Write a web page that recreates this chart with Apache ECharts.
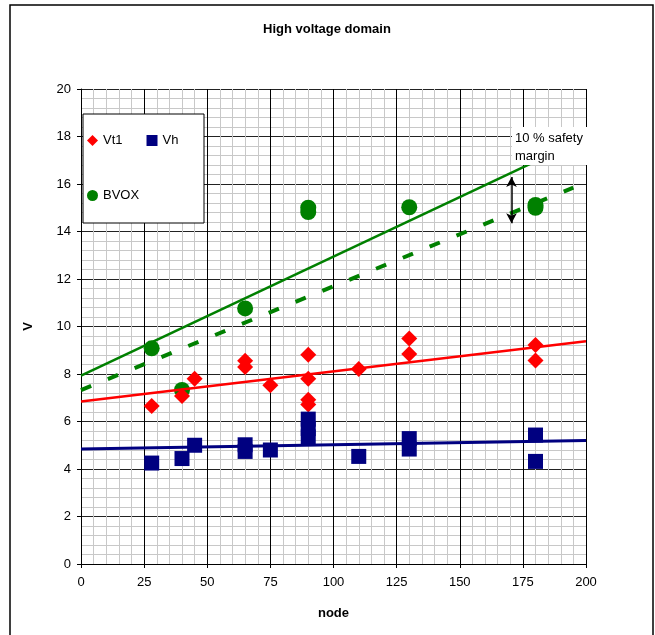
<!DOCTYPE html>
<html>
<head>
<meta charset="utf-8">
<script src="https://cdn.jsdelivr.net/npm/echarts@6/dist/echarts.min.js"></script>
<style>
html,body{margin:0;padding:0;background:#fff;}
#chart{width:655px;height:635px;}
</style>
</head>
<body>
<div id="chart"></div>
<script>
// ---- data ----
const titleText = 'High voltage domain';
const xTicks = [0, 25, 50, 75, 100, 125, 150, 175, 200];
const yTicks = [0, 2, 4, 6, 8, 10, 12, 14, 16, 18, 20];

const vt1X = [28, 40, 45, 65, 65, 75, 90, 90, 90, 90, 110, 130, 130, 180, 180];
const vt1Y = [6.65, 7.07, 7.8, 8.56, 8.29, 7.53, 8.81, 7.8, 6.92, 6.72, 8.21, 9.49, 8.84, 9.22, 8.57];

const vhX = [28, 40, 45, 65, 65, 75, 90, 90, 90, 110, 130, 130, 180, 180];
const vhY = [4.25, 4.44, 5.0, 5.02, 4.74, 4.8, 6.1, 5.7, 5.35, 4.53, 5.28, 4.84, 5.43, 4.32];

const bvoxX = [28, 40, 65, 90, 90, 130, 180, 180];
const bvoxY = [9.08, 7.33, 10.76, 15.0, 14.82, 15.02, 15.0, 15.12];

const trendVt1X = [0, 200], trendVt1Y = [6.84, 9.38];
const trendVhX = [0, 200], trendVhY = [4.84, 5.2];
const trendBvoxX = [0, 180], trendBvoxY = [7.93, 16.95];
const marginX = [0, 195], marginY = [7.32, 15.85];
const arrowX = 170.5, arrowY = [16.3, 14.35];
const noteLines = ['10 % safety', 'margin'];

// ---- build ----
const zip = (xs, ys) => xs.map((x, i) => [x, ys[i]]);
const FONT = "'Liberation Sans', Arial, sans-serif";

const chart = echarts.init(document.getElementById('chart'), null, {renderer: 'canvas'});

const option = {
  backgroundColor: '#fff',
  animation: false,
  textStyle: {fontFamily: FONT},
  title: {
    text: titleText,
    left: 263, top: 23,
    padding: 0,
    textStyle: {fontFamily: FONT, fontSize: 13, fontWeight: 'bold', color: '#000'}
  },
  grid: {left: 81, top: 89, width: 505, height: 475, containLabel: false},
  xAxis: {
    type: 'value', min: xTicks[0], max: xTicks[xTicks.length - 1], interval: 25,
    name: 'node', nameLocation: 'middle', nameGap: 43,
    nameTextStyle: {fontFamily: FONT, fontSize: 13, fontWeight: 'bold', color: '#000'},
    axisLine: {show: true, onZero: false, lineStyle: {color: '#000', width: 1}},
    axisTick: {show: true, length: 4, inside: false, lineStyle: {color: '#000'}},
    axisLabel: {fontFamily: FONT, fontSize: 13, color: '#000', margin: 12},
    splitLine: {show: true, lineStyle: {color: '#000', width: 1}},
    minorTick: {show: false, splitNumber: 5},
    minorSplitLine: {show: true, lineStyle: {color: '#c8c8c8', width: 1}}
  },
  yAxis: {
    type: 'value', min: yTicks[0], max: yTicks[yTicks.length - 1], interval: 2,
    name: 'V', nameLocation: 'middle', nameGap: 46, nameRotate: 90,
    nameTextStyle: {fontFamily: FONT, fontSize: 13, fontWeight: 'bold', color: '#000'},
    axisLine: {show: true, onZero: false, lineStyle: {color: '#000', width: 1}},
    axisTick: {show: true, length: 4, inside: false, lineStyle: {color: '#000'}},
    axisLabel: {fontFamily: FONT, fontSize: 13, color: '#000', margin: 10},
    splitLine: {show: true, lineStyle: {color: '#222', width: 1}},
    minorTick: {show: false, splitNumber: 5},
    minorSplitLine: {show: true, lineStyle: {color: '#c8c8c8', width: 1}}
  },
  legend: [
    {
      data: ['Vt1', 'Vh'], left: 87, top: 134, padding: 0, itemGap: 24,
      itemWidth: 11, itemHeight: 11, selectedMode: false, z: 60,
      textStyle: {fontFamily: FONT, fontSize: 13, color: '#000'}
    },
    {
      data: ['BVOX'], left: 87, top: 189, padding: 0,
      itemWidth: 11, itemHeight: 11, selectedMode: false, z: 60,
      textStyle: {fontFamily: FONT, fontSize: 13, color: '#000'}
    }
  ],
  graphic: {
    elements: [
      {type: 'rect', z: 50, shape: {x: 83, y: 114, width: 121, height: 109},
       style: {fill: '#fff', stroke: '#000', lineWidth: 1}},
      {type: 'rect', z: 50, shape: {x: 512, y: 127, width: 76, height: 38},
       style: {fill: '#fff', stroke: null}},
      {type: 'text', z: 51, x: 515, y: 129,
       style: {text: noteLines.join('\n'), font: "13px 'Liberation Sans', Arial, sans-serif",
               fill: '#000', lineHeight: 18}},
      {type: 'rect', z: 52, shape: {x: 10, y: 5, width: 643, height: 640},
       style: {fill: null, stroke: '#000', lineWidth: 1.5}}
    ]
  },
  series: [
    {
      name: 'BVOX', type: 'scatter', symbol: 'circle', symbolSize: 16,
      itemStyle: {color: '#008000', opacity: 1}, data: zip(bvoxX, bvoxY), z: 3
    },
    {
      name: 'Vt1', type: 'scatter', symbol: 'diamond', symbolSize: 16,
      itemStyle: {color: '#ff0000', opacity: 1}, data: zip(vt1X, vt1Y), z: 3
    },
    {
      name: 'Vh', type: 'scatter', symbol: 'rect', symbolSize: 15,
      itemStyle: {color: '#000080', opacity: 1}, data: zip(vhX, vhY), z: 3
    },
    {
      name: 'trendVt1', type: 'line', data: zip(trendVt1X, trendVt1Y), showSymbol: false,
      lineStyle: {color: '#ff0000', width: 2.5}, z: 4, silent: true
    },
    {
      name: 'trendVh', type: 'line', data: zip(trendVhX, trendVhY), showSymbol: false,
      lineStyle: {color: '#000080', width: 3}, z: 4, silent: true
    },
    {
      name: 'trendBvox', type: 'line', data: zip(trendBvoxX, trendBvoxY), showSymbol: false,
      lineStyle: {color: '#008000', width: 2.5}, z: 4, silent: true
    },
    {
      name: 'margin', type: 'line', data: zip(marginX, marginY), showSymbol: false,
      lineStyle: {color: '#008000', width: 4, type: [11, 18]}, z: 4, silent: true,
      markLine: {
        silent: true, symbol: ['arrow', 'arrow'], symbolSize: [8, 10],
        label: {show: false},
        lineStyle: {color: '#000', width: 1.5, type: 'solid'},
        data: [[{coord: [arrowX, arrowY[0]]}, {coord: [arrowX, arrowY[1]]}]]
      }
    }
  ]
};
chart.setOption(option);
</script>
</body>
</html>
